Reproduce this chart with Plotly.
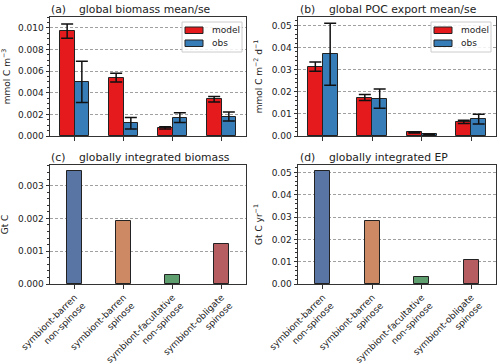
import plotly.graph_objects as go

categories = ["symbiont-barren<br>non-spinose", "symbiont-barren<br>spinose",
              "symbiont-facultative<br>non-spinose", "symbiont-obligate<br>spinose"]
xpos = [0, 1, 2, 3]
series_names = ["model", "obs"]

biomass_model = [0.0097, 0.0054, 0.00075, 0.0034]
biomass_model_se = [0.00066, 0.0004, 0.0001, 0.00025]
biomass_obs = [0.0050, 0.00117, 0.0017, 0.0018]
biomass_obs_se = [0.0019, 0.00053, 0.00045, 0.00042]

poc_model = [0.0314, 0.0174, 0.0016, 0.0064]
poc_model_se = [0.0021, 0.0014, 0.0002, 0.0007]
poc_obs = [0.0370, 0.0169, 0.00075, 0.0076]
poc_obs_se = [0.0140, 0.0044, 0.0002, 0.0022]

int_biomass = [0.00346, 0.00192, 0.000275, 0.00121]
int_ep = [0.0506, 0.0281, 0.0030, 0.0106]

group_colors = ["#5875a4", "#cc8963", "#5f9e6e", "#b55d60"]
RED = "#e41a1c"
BLUE = "#377eb8"
EDGE = "#222222"
FONT = "DejaVu Sans"

fig = go.Figure()

def err(vals):
    return dict(type="data", array=vals, color="#111111", thickness=1.5, width=6)

# (a)
fig.add_trace(go.Bar(x=xpos, y=biomass_model, width=0.3, offset=-0.3, name="model",
                     marker=dict(color=RED, line=dict(color=EDGE, width=1)),
                     error_y=err(biomass_model_se), xaxis="x", yaxis="y"))
fig.add_trace(go.Bar(x=xpos, y=biomass_obs, width=0.3, offset=0.0, name="obs",
                     marker=dict(color=BLUE, line=dict(color=EDGE, width=1)),
                     error_y=err(biomass_obs_se), xaxis="x", yaxis="y"))
# (b)
fig.add_trace(go.Bar(x=xpos, y=poc_model, width=0.3, offset=-0.3, name="model",
                     marker=dict(color=RED, line=dict(color=EDGE, width=1)),
                     error_y=err(poc_model_se), xaxis="x2", yaxis="y2"))
fig.add_trace(go.Bar(x=xpos, y=poc_obs, width=0.3, offset=0.0, name="obs",
                     marker=dict(color=BLUE, line=dict(color=EDGE, width=1)),
                     error_y=err(poc_obs_se), xaxis="x2", yaxis="y2"))
# (c)
fig.add_trace(go.Bar(x=xpos, y=int_biomass, width=0.3,
                     marker=dict(color=group_colors, line=dict(color=EDGE, width=1)),
                     xaxis="x3", yaxis="y3"))
# (d)
fig.add_trace(go.Bar(x=xpos, y=int_ep, width=0.3,
                     marker=dict(color=group_colors, line=dict(color=EDGE, width=1)),
                     xaxis="x4", yaxis="y4"))

W, H = 500, 364

def px_x(p):
    return p / W
def px_y(p):
    return 1 - p / H

left_dom = [px_x(50), px_x(246)]
right_dom = [px_x(298), px_x(496)]
top_dom = [px_y(136), px_y(17)]
bot_dom = [px_y(284), px_y(165)]

def xax(dom, anchor, labels):
    return dict(domain=dom, anchor=anchor, range=[-0.5, 3.5], tickvals=xpos,
                ticktext=labels, ticks="outside", ticklen=3.5, tickcolor="#333",
                showline=True, linecolor="#333", linewidth=1, mirror=True, automargin=False,
                showgrid=False, zeroline=False, tickangle=-45 if labels[0] else 0,
                tickfont=dict(family=FONT, size=9, color="#222"))

def yax(dom, anchor, rng, dtick, minor, fmt, title, standoff):
    return dict(domain=dom, anchor=anchor, range=rng, dtick=dtick, tick0=0, tickformat=fmt,
                ticks="outside", ticklen=3.5, tickcolor="#333", automargin=False,
                minor=dict(ticks="outside", ticklen=2, dtick=minor, tickcolor="#333", showgrid=False),
                showline=True, linecolor="#333", linewidth=1, mirror=True,
                showgrid=True, gridcolor="#a0a0a0", griddash="3px,2px", gridwidth=0.8,
                zeroline=False, tickfont=dict(family=FONT, size=9, color="#222"),
                title=dict(text=title, font=dict(family=FONT, size=9, color="#222"), standoff=standoff))

blank = ["", "", "", ""]
fig.update_layout(
    width=W, height=H, margin=dict(l=0, r=0, t=0, b=0, autoexpand=False),
    plot_bgcolor="white", paper_bgcolor="white", bargap=0, showlegend=False,
    font=dict(family=FONT, size=9, color="#222"),
    xaxis=xax(left_dom, "y", blank),
    yaxis=yax(top_dom, "x", [0, 0.011], 0.002, 0.0005, ".3f", "mmol C m<sup>−3</sup>", 8),
    xaxis2=xax(right_dom, "y2", blank),
    yaxis2=yax(top_dom, "x2", [0, 0.0538], 0.01, 0.002, ".2f", "mmol C m<sup>−2</sup> d<sup>−1</sup>", 7),
    xaxis3=xax(left_dom, "y3", categories),
    yaxis3=yax(bot_dom, "x3", [0, 0.00363], 0.001, 0.0002, ".3f", "Gt C", 8),
    xaxis4=xax(right_dom, "y4", categories),
    yaxis4=yax(bot_dom, "x4", [0, 0.0533], 0.01, 0.002, ".2f", "Gt C yr<sup>−1</sup>", 7),
)

def title_pair(tag, text, xl, xt, yc):
    fig.add_annotation(text=tag, x=px_x(xl), y=px_y(yc), xref="paper", yref="paper",
                       xanchor="left", yanchor="middle", showarrow=False,
                       font=dict(family=FONT, size=10.8, color="#222"))
    fig.add_annotation(text=text, x=px_x(xt), y=px_y(yc), xref="paper", yref="paper",
                       xanchor="left", yanchor="middle", showarrow=False,
                       font=dict(family=FONT, size=10.8, color="#222"))

title_pair("(a)", "global biomass mean/se", 49, 77, 9)
title_pair("(b)", "global POC export mean/se", 298, 327, 9)
title_pair("(c)", "globally integrated biomass", 49, 77, 157)
title_pair("(d)", "globally integrated EP", 298, 327, 157)

# legend boxes (matplotlib-style) for panels (a) and (b)
def legend_box(x0):
    fig.add_shape(type="rect", xref="paper", yref="paper",
                  x0=px_x(x0), x1=px_x(x0 + 60), y0=px_y(52), y1=px_y(22),
                  line=dict(color="#cccccc", width=1), fillcolor="rgba(255,255,255,0.85)",
                  layer="above")
    for i, (nm, col) in enumerate(zip(series_names, [RED, BLUE])):
        yt = 27 + 13 * i
        fig.add_shape(type="rect", xref="paper", yref="paper",
                      x0=px_x(x0 + 3), x1=px_x(x0 + 21), y0=px_y(yt + 6.5), y1=px_y(yt),
                      line=dict(color=EDGE, width=1), fillcolor=col, layer="above")
        fig.add_annotation(text=nm, x=px_x(x0 + 28), y=px_y(yt + 3.3), xref="paper", yref="paper",
                           xanchor="left", yanchor="middle", showarrow=False,
                           font=dict(family=FONT, size=9, color="#222"))

legend_box(182)
legend_box(431)

fig.write_html("out.html", config={"displayModeBar": False},
               post_script="document.body.style.margin='0';document.body.style.overflow='hidden';")
